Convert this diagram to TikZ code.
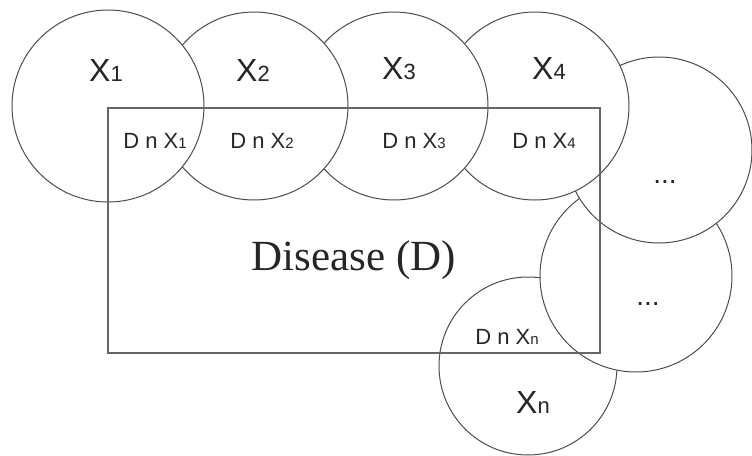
\documentclass[tikz,border=0pt]{standalone}
\usepackage{fontspec}
\setmainfont{Liberation Serif}
\setsansfont{Liberation Sans}
% set names with the index set small on the baseline
\newcommand{\setx}[1]{X{\fontsize{11}{11}\selectfont #1}}
\newcommand{\cutx}[1]{D n X{\fontsize{7.5}{7.5}\selectfont #1}}
\tikzset{
  setc/.style={draw=black!70, line width=0.5pt, fill=white},
  setlbl/.style={anchor=base, text=black!85, font=\sffamily\fontsize{16}{16}\selectfont},
  cutlbl/.style={anchor=base, text=black!85, font=\sffamily\fontsize{11}{11}\selectfont},
  dotlbl/.style={anchor=base, text=black!85, font=\sffamily\fontsize{14}{14}\selectfont},
}
\begin{document}
\begin{tikzpicture}[x=0.5pt, y=-0.5pt]
        \useasboundingbox (0,0) rectangle (752,456);
        % circles, back to front
        \draw[setc] (528,366) circle [radius=89];
        \draw[setc] (636,276) circle [radius=96];
        \draw[setc] (659,150) circle [radius=93];
        \draw[setc] (535,106) circle [radius=94];
        \draw[setc] (394,106) circle [radius=94];
        \draw[setc] (254,106) circle [radius=94];
        \draw[setc] (108,106) circle [radius=96];
        % the disease box
        \draw[black!60, line width=0.9pt] (108,108) rectangle (600,353);
        \node [anchor=base, text=black!85, font=\fontsize{21.5}{21.5}\selectfont] (dis) at (354,270) {Disease (D)};
        \node [setlbl] (x1) at (106,81) {\setx{1}};
        \node [setlbl] (x2) at (253,81) {\setx{2}};
        \node [setlbl] (x3) at (399,79) {\setx{3}};
        \node [setlbl] (x4) at (549,79) {\setx{4}};
        \node [setlbl] (xn) at (533,413) {\setx{n}};
        \node [cutlbl] (c1) at (155,148) {\cutx{1}};
        \node [cutlbl] (c2) at (262,148) {\cutx{2}};
        \node [cutlbl] (c3) at (414,148) {\cutx{3}};
        \node [cutlbl] (c4) at (544,148) {\cutx{4}};
        \node [cutlbl] (cn) at (507,344) {\cutx{n}};
        \node [dotlbl] (d1) at (665,183) {...};
        \node [dotlbl] (d2) at (648,305) {...};
    \end{tikzpicture}
\end{document}
